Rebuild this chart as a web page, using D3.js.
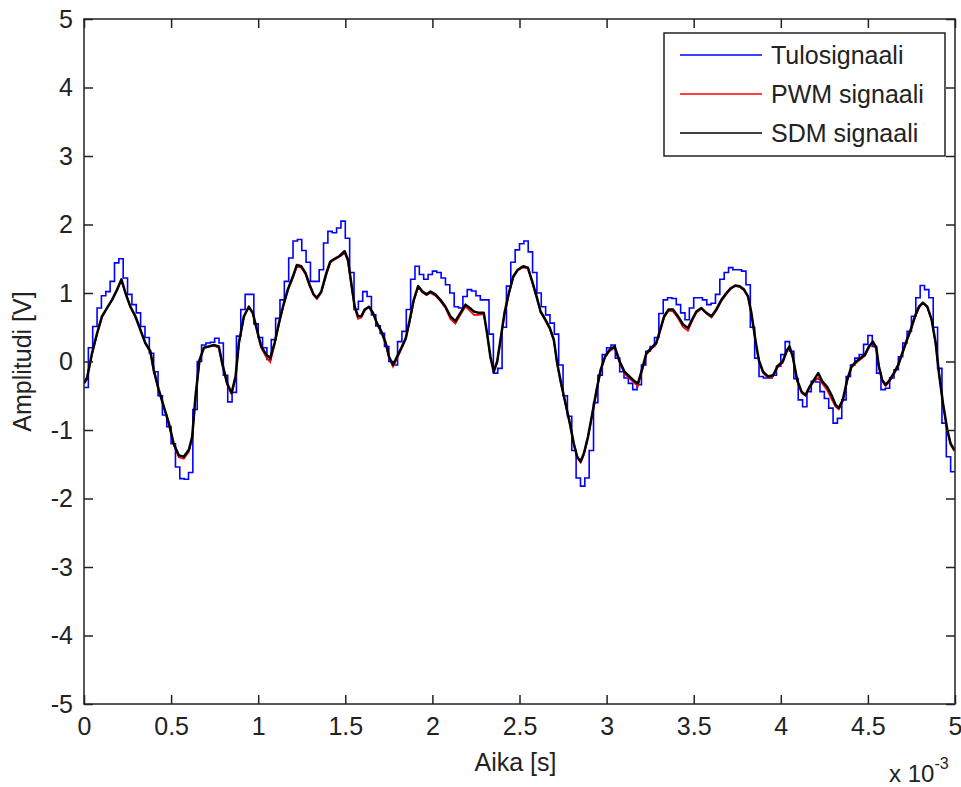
<!DOCTYPE html>
<html>
<head>
<meta charset="utf-8">
<script src="https://cdn.jsdelivr.net/npm/d3@7"></script>
<style>
  html, body { margin: 0; padding: 0; background: #fff; }
  svg { display: block; }
  text { font-family: "Liberation Sans", Arial, Helvetica, sans-serif; fill: #222; }
</style>
</head>
<body>
<svg id="chart" width="961" height="787"></svg>
<script>
// ---------- data (time in ms, amplitude in V) ----------
const seriesNames = ["Tulosignaali", "PWM signaali", "SDM signaali"];
const xTickValues = [0, 0.5, 1, 1.5, 2, 2.5, 3, 3.5, 4, 4.5, 5];
const xTickLabels = ["0", "0.5", "1", "1.5", "2", "2.5", "3", "3.5", "4", "4.5", "5"];
const yTickValues = [-5, -4, -3, -2, -1, 0, 1, 2, 3, 4, 5];
const yTickLabels = ["-5", "-4", "-3", "-2", "-1", "0", "1", "2", "3", "4", "5"];
const xLabel = "Aika [s]";
const yLabel = "Amplitudi [V]";

// input signal, sample-and-hold steps of 0.025 ms
const inputStep = 0.025;
const inputValues = [
  -0.38, 0.2, 0.51, 0.78, 0.96, 1.02, 1.17, 1.44, 1.5, 1.22,
  0.98, 0.83, 0.71, 0.51, 0.35, 0.12, -0.15, -0.5, -0.78, -0.95,
  -1.2, -1.54, -1.71, -1.72, -1.62, -0.7, 0.0, 0.24, 0.27, 0.28,
  0.34, 0.27, -0.2, -0.59, -0.45, 0.37, 0.76, 0.98, 0.98, 0.55,
  0.35, 0.2, 0.03, 0.32, 0.63, 0.9, 1.17, 1.51, 1.76, 1.78,
  1.62, 1.45, 1.17, 1.17, 1.34, 1.73, 1.9, 1.88, 1.95, 2.05,
  1.8, 1.3, 0.76, 0.88, 1.02, 0.95, 0.68, 0.52, 0.41, 0.22,
  0.0, -0.05, 0.29, 0.44, 0.76, 1.2, 1.39, 1.27, 1.2, 1.27,
  1.32, 1.3, 1.22, 1.12, 1.0, 0.8, 0.78, 0.95, 1.05, 1.03,
  0.96, 0.9, 0.9, 0.4, -0.17, -0.1, 0.5, 1.1, 1.45, 1.63,
  1.72, 1.76, 1.6, 1.3, 1.0, 0.8, 0.68, 0.56, 0.4, -0.05,
  -0.5, -0.8, -1.3, -1.7, -1.82, -1.7, -1.3, -0.6, -0.2, 0.1,
  0.2, 0.24, 0.05, -0.15, -0.24, -0.32, -0.41, -0.34, -0.05, 0.15,
  0.22, 0.35, 0.7, 0.9, 0.93, 0.92, 0.83, 0.71, 0.61, 0.78,
  0.93, 0.93, 0.9, 0.83, 0.85, 0.98, 1.2, 1.3, 1.37, 1.34,
  1.34, 1.32, 1.12, 0.5, 0.05, -0.22, -0.24, -0.24, -0.2, -0.07,
  0.1, 0.29, 0.15, -0.25, -0.56, -0.66, -0.44, -0.29, -0.3, -0.44,
  -0.54, -0.68, -0.9, -0.83, -0.56, -0.22, -0.05, 0.05, 0.1, 0.25,
  0.38, 0.22, -0.17, -0.41, -0.39, -0.24, -0.12, 0.07, 0.27, 0.44,
  0.66, 0.93, 1.11, 1.05, 0.93, 0.5, -0.1, -0.9, -1.39, -1.61
];

// reconstructed (filtered) signals, read at these times
const smoothTimes = [
  0.000, 0.017, 0.046, 0.075, 0.103, 0.132, 0.161, 0.190, 0.215, 0.238,
  0.266, 0.295, 0.324, 0.352, 0.381, 0.400, 0.429, 0.458, 0.487, 0.515,
  0.544, 0.573, 0.602, 0.621, 0.640, 0.663, 0.688, 0.716, 0.745, 0.774,
  0.793, 0.822, 0.847, 0.870, 0.889, 0.918, 0.946, 0.969, 0.994, 1.017,
  1.046, 1.069, 1.094, 1.119, 1.142, 1.170, 1.199, 1.222, 1.247, 1.272,
  1.295, 1.318, 1.337, 1.362, 1.391, 1.414, 1.439, 1.467, 1.496, 1.515,
  1.534, 1.554, 1.573, 1.592, 1.611, 1.636, 1.659, 1.682, 1.707, 1.732,
  1.751, 1.774, 1.797, 1.822, 1.847, 1.870, 1.893, 1.918, 1.943, 1.966,
  1.989, 2.017, 2.046, 2.075, 2.103, 2.132, 2.161, 2.190, 2.215, 2.238,
  2.266, 2.295, 2.314, 2.333, 2.352, 2.372, 2.391, 2.414, 2.439, 2.464,
  2.490, 2.521, 2.548, 2.573, 2.598, 2.621, 2.649, 2.674, 2.697, 2.716,
  2.739, 2.764, 2.789, 2.812, 2.831, 2.851, 2.870, 2.893, 2.918, 2.943,
  2.966, 2.991, 3.017, 3.046, 3.075, 3.103, 3.132, 3.161, 3.180, 3.203,
  3.228, 3.257, 3.285, 3.305, 3.330, 3.356, 3.381, 3.410, 3.439, 3.467,
  3.490, 3.515, 3.544, 3.573, 3.602, 3.630, 3.659, 3.688, 3.713, 3.739,
  3.764, 3.789, 3.812, 3.831, 3.854, 3.874, 3.898, 3.927, 3.956, 3.981,
  4.011, 4.036, 4.050, 4.069, 4.094, 4.119, 4.142, 4.165, 4.190, 4.215,
  4.238, 4.266, 4.291, 4.314, 4.333, 4.356, 4.381, 4.406, 4.433, 4.458,
  4.483, 4.506, 4.529, 4.548, 4.563, 4.582, 4.602, 4.625, 4.649, 4.674,
  4.697, 4.720, 4.745, 4.770, 4.793, 4.816, 4.841, 4.866, 4.889, 4.908,
  4.931, 4.956, 4.975, 4.996
];
const pwmValues = [
  -0.30, -0.22, 0.10, 0.40, 0.64, 0.78, 0.90, 1.04, 1.18, 1.00,
  0.80, 0.64, 0.46, 0.27, 0.13, -0.14, -0.43, -0.66, -0.92, -1.22,
  -1.40, -1.42, -1.32, -1.12, -0.55, 0.00, 0.20, 0.22, 0.23, 0.20,
  -0.05, -0.34, -0.48, -0.25, 0.25, 0.64, 0.80, 0.70, 0.44, 0.20,
  0.06, -0.01, 0.24, 0.54, 0.78, 1.03, 1.22, 1.38, 1.37, 1.27,
  1.10, 0.97, 0.91, 1.00, 1.26, 1.44, 1.49, 1.53, 1.58, 1.47,
  1.12, 0.78, 0.62, 0.64, 0.74, 0.80, 0.70, 0.54, 0.42, 0.25,
  0.05, -0.08, 0.04, 0.18, 0.32, 0.58, 0.88, 1.08, 1.01, 0.97,
  1.00, 0.96, 0.88, 0.78, 0.62, 0.55, 0.68, 0.80, 0.74, 0.68,
  0.68, 0.69, 0.40, 0.05, -0.12, 0.00, 0.30, 0.68, 0.98, 1.22,
  1.33, 1.37, 1.36, 1.15, 0.93, 0.72, 0.59, 0.47, 0.30, -0.04,
  -0.34, -0.63, -0.92, -1.22, -1.40, -1.48, -1.36, -1.12, -0.78, -0.43,
  -0.14, 0.06, 0.15, 0.20, -0.02, -0.18, -0.25, -0.32, -0.36, -0.14,
  0.10, 0.18, 0.25, 0.42, 0.64, 0.74, 0.73, 0.63, 0.50, 0.45,
  0.58, 0.71, 0.77, 0.70, 0.64, 0.74, 0.88, 0.98, 1.06, 1.10,
  1.09, 1.04, 0.94, 0.70, 0.30, 0.00, -0.17, -0.24, -0.22, -0.09,
  -0.02, 0.15, 0.20, 0.05, -0.29, -0.46, -0.50, -0.39, -0.29, -0.24,
  -0.32, -0.42, -0.55, -0.66, -0.70, -0.58, -0.29, -0.09, -0.02, 0.03,
  0.08, 0.20, 0.27, 0.18, -0.09, -0.29, -0.36, -0.29, -0.19, -0.07,
  0.10, 0.27, 0.44, 0.64, 0.78, 0.85, 0.79, 0.60, 0.25, -0.19,
  -0.63, -1.02, -1.22, -1.31
];
const sdmValues = [
  -0.32, -0.25, 0.12, 0.41, 0.66, 0.78, 0.90, 1.05, 1.20, 1.00,
  0.80, 0.66, 0.46, 0.27, 0.15, -0.12, -0.41, -0.66, -0.90, -1.20,
  -1.37, -1.39, -1.29, -1.10, -0.51, 0.02, 0.20, 0.22, 0.24, 0.22,
  -0.02, -0.32, -0.46, -0.22, 0.27, 0.66, 0.80, 0.71, 0.45, 0.22,
  0.10, 0.05, 0.27, 0.56, 0.80, 1.05, 1.24, 1.41, 1.39, 1.29,
  1.12, 0.98, 0.93, 1.02, 1.29, 1.46, 1.50, 1.54, 1.61, 1.49,
  1.15, 0.80, 0.66, 0.66, 0.76, 0.80, 0.71, 0.56, 0.44, 0.27,
  0.07, -0.05, 0.07, 0.20, 0.34, 0.61, 0.90, 1.10, 1.02, 0.98,
  1.02, 0.98, 0.90, 0.80, 0.66, 0.59, 0.71, 0.83, 0.78, 0.73,
  0.71, 0.71, 0.41, 0.07, -0.15, 0.00, 0.32, 0.71, 1.00, 1.24,
  1.34, 1.39, 1.37, 1.17, 0.95, 0.73, 0.61, 0.49, 0.32, -0.02,
  -0.32, -0.61, -0.90, -1.20, -1.39, -1.46, -1.34, -1.10, -0.76, -0.41,
  -0.12, 0.07, 0.17, 0.22, 0.00, -0.15, -0.22, -0.29, -0.32, -0.12,
  0.12, 0.20, 0.27, 0.44, 0.66, 0.76, 0.76, 0.66, 0.54, 0.49,
  0.61, 0.73, 0.78, 0.71, 0.66, 0.76, 0.90, 1.00, 1.07, 1.11,
  1.10, 1.05, 0.95, 0.71, 0.32, 0.02, -0.15, -0.22, -0.20, -0.07,
  0.00, 0.17, 0.22, 0.07, -0.27, -0.44, -0.49, -0.37, -0.27, -0.17,
  -0.29, -0.37, -0.49, -0.63, -0.68, -0.56, -0.27, -0.07, 0.00, 0.05,
  0.10, 0.22, 0.29, 0.20, -0.07, -0.27, -0.34, -0.27, -0.17, -0.05,
  0.12, 0.29, 0.46, 0.66, 0.80, 0.86, 0.80, 0.61, 0.27, -0.17,
  -0.61, -1.00, -1.20, -1.29
];
const seriesColors = ["#0000ff", "#ff0000", "#000000"];

// ---------- layout ----------
const svg = d3.select("#chart");
const pLeft = 84, pRight = 955, pTop = 19, pBottom = 704;
const x = d3.scaleLinear().domain([0, 5]).range([pLeft, pRight]);
const y = d3.scaleLinear().domain([-5, 5]).range([pBottom, pTop]);
const fontSize = 25;

svg.append("rect").attr("width", 961).attr("height", 787).attr("fill", "#fff");

svg.append("defs").append("clipPath").attr("id", "clip")
  .append("rect").attr("x", pLeft).attr("y", pTop)
  .attr("width", pRight - pLeft).attr("height", pBottom - pTop);

// ---------- data lines ----------
const plot = svg.append("g").attr("clip-path", "url(#clip)");

const inputPts = inputValues.map((v, i) => [i * inputStep, v]);
inputPts.push([inputValues.length * inputStep, inputValues[inputValues.length - 1]]);

plot.append("path")
  .attr("d", d3.line().x(d => x(d[0])).y(d => y(d[1])).curve(d3.curveStepAfter)(inputPts))
  .attr("fill", "none").attr("stroke", seriesColors[0]).attr("stroke-width", 1.6);

const smoothLine = d3.line().x(d => x(d[0])).y(d => y(d[1]));
plot.append("path")
  .attr("d", smoothLine(smoothTimes.map((t, i) => [t, pwmValues[i]])))
  .attr("fill", "none").attr("stroke", seriesColors[1]).attr("stroke-width", 1.6);
plot.append("path")
  .attr("d", smoothLine(smoothTimes.map((t, i) => [t, sdmValues[i]])))
  .attr("fill", "none").attr("stroke", seriesColors[2]).attr("stroke-width", 2.5)
  .attr("stroke-linejoin", "round");

// ---------- axes ----------
const tickLen = 9;
const axisColor = "#222";
function styleAxis(g) {
  g.select(".domain").remove();
  g.selectAll("line").attr("stroke", axisColor).attr("stroke-width", 1.5);
  g.selectAll("text").attr("font-size", fontSize).attr("fill", "#222")
    .style("font-family", "'Liberation Sans', Arial, sans-serif");
}

svg.append("g").attr("transform", `translate(0,${pBottom})`)
  .call(d3.axisBottom(x).tickValues(xTickValues).tickFormat((d, i) => xTickLabels[i])
    .tickSizeInner(-tickLen).tickSizeOuter(0).tickPadding(13))
  .call(styleAxis);
svg.append("g").attr("transform", `translate(0,${pTop})`)
  .call(d3.axisTop(x).tickValues(xTickValues).tickFormat("")
    .tickSizeInner(-tickLen).tickSizeOuter(0))
  .call(styleAxis);
svg.append("g").attr("transform", `translate(${pLeft},0)`)
  .call(d3.axisLeft(y).tickValues(yTickValues).tickFormat((d, i) => yTickLabels[i])
    .tickSizeInner(-tickLen).tickSizeOuter(0).tickPadding(11))
  .call(styleAxis);
svg.append("g").attr("transform", `translate(${pRight},0)`)
  .call(d3.axisRight(y).tickValues(yTickValues).tickFormat("")
    .tickSizeInner(-tickLen).tickSizeOuter(0))
  .call(styleAxis);

svg.append("rect").attr("x", pLeft).attr("y", pTop)
  .attr("width", pRight - pLeft).attr("height", pBottom - pTop)
  .attr("fill", "none").attr("stroke", axisColor).attr("stroke-width", 1.5);

// ---------- labels ----------
svg.append("text").attr("x", (pLeft + pRight) / 2 - 4).attr("y", 771)
  .attr("text-anchor", "middle").attr("font-size", fontSize).text(xLabel);
svg.append("text")
  .attr("transform", `translate(31,${(pTop + pBottom) / 2}) rotate(-90)`)
  .attr("text-anchor", "middle").attr("font-size", fontSize).text(yLabel);

const mult = svg.append("text").attr("x", 889).attr("y", 782).attr("font-size", 24);
mult.append("tspan").text("x 10");
mult.append("tspan").attr("font-size", 16).attr("dy", -13).text("-3");

// ---------- legend ----------
const legend = svg.append("g");
legend.append("rect").attr("x", 664).attr("y", 33).attr("width", 281).attr("height", 123)
  .attr("fill", "#fff").attr("stroke", axisColor).attr("stroke-width", 1.5);
const rowY = [55, 94, 133];
seriesNames.forEach((name, i) => {
  legend.append("line").attr("x1", 680).attr("x2", 762)
    .attr("y1", rowY[i]).attr("y2", rowY[i])
    .attr("stroke", seriesColors[i]).attr("stroke-width", 1.6);
  legend.append("text").attr("x", 771).attr("y", rowY[i]).attr("dy", "0.35em")
    .attr("font-size", fontSize).text(name);
});
</script>
</body>
</html>
